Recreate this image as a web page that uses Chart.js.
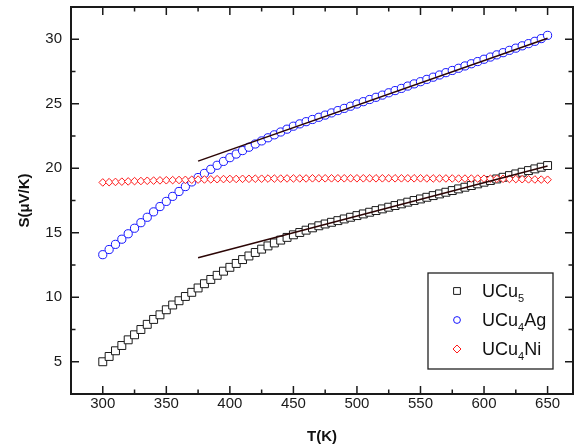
<!DOCTYPE html>
<html><head><meta charset="utf-8">
<script src="https://cdn.jsdelivr.net/npm/chart.js@4/dist/chart.umd.min.js"></script>
<style>html,body{margin:0;padding:0;background:#fff;}#wrap{width:586px;height:448px;}</style>
</head><body><div id="wrap"><canvas id="c" width="586" height="448"></canvas></div>
<script>
const temperatures = [
  300,305,310,315,320,325,330,335,340,345,
  350,355,360,365,370,375,380,385,390,395,
  400,405,410,415,420,425,430,435,440,445,
  450,455,460,465,470,475,480,485,490,495,
  500,505,510,515,520,525,530,535,540,545,
  550,555,560,565,570,575,580,585,590,595,
  600,605,610,615,620,625,630,635,640,645,
  650
];
const sUCu5 = [
  5.0,5.41,5.85,6.26,6.7,7.09,7.5,7.9,8.28,8.64,
  9.03,9.4,9.73,10.06,10.38,10.72,11.05,11.38,11.7,12.02,
  12.32,12.62,12.92,13.2,13.47,13.73,13.98,14.21,14.43,14.64,
  14.84,15.02,15.2,15.38,15.54,15.68,15.81,15.94,16.07,16.2,
  16.33,16.46,16.59,16.72,16.85,16.98,17.11,17.24,17.37,17.5,
  17.62,17.75,17.88,18.01,18.14,18.27,18.4,18.53,18.66,18.79,
  18.92,19.05,19.17,19.3,19.43,19.56,19.69,19.82,19.95,20.08,
  20.21
];
const sUCu4Ag = [
  13.3,13.7,14.1,14.5,14.92,15.35,15.78,16.2,16.62,17.03,
  17.43,17.82,18.2,18.58,18.94,19.28,19.6,19.92,20.23,20.53,
  20.82,21.1,21.37,21.63,21.88,22.12,22.36,22.59,22.81,23.03,
  23.26,23.44,23.61,23.78,23.95,24.12,24.29,24.47,24.64,24.81,
  24.98,25.16,25.33,25.5,25.67,25.85,26.02,26.19,26.37,26.54,
  26.71,26.89,27.06,27.23,27.41,27.58,27.75,27.93,28.1,28.27,
  28.45,28.62,28.79,28.96,29.14,29.31,29.49,29.66,29.84,30.05,
  30.3
];
const sUCu4Ni = [
  18.9,18.92,18.94,18.96,18.98,19.0,19.01,19.03,19.04,19.06,
  19.07,19.08,19.09,19.1,19.11,19.12,19.13,19.14,19.15,19.16,
  19.17,19.17,19.18,19.18,19.19,19.19,19.2,19.2,19.2,19.21,
  19.21,19.21,19.21,19.22,19.22,19.22,19.22,19.22,19.22,19.22,
  19.22,19.22,19.22,19.22,19.22,19.22,19.22,19.22,19.22,19.22,
  19.22,19.21,19.21,19.21,19.21,19.21,19.2,19.2,19.2,19.2,
  19.19,19.19,19.18,19.18,19.17,19.16,19.15,19.14,19.13,19.12,
  19.11
];
const fitUCu5T = [375, 650];
const fitUCu5S = [13.06, 20.17];
const fitUCu4AgT = [375, 650];
const fitUCu4AgS = [20.55, 30.08];
const seriesNames = ['UCu5', 'UCu4Ag', 'UCu4Ni'];
const xTicks = [300, 350, 400, 450, 500, 550, 600, 650];
const xMinorTicks = [325, 375, 425, 475, 525, 575, 625];
const yTicks = [5, 10, 15, 20, 25, 30];
const yMinorTicks = [7.5, 12.5, 17.5, 22.5, 27.5];

const pts = (xs, ys) => xs.map((t, i) => ({x: t, y: ys[i]}));
const FONT = '"Liberation Sans", Arial, sans-serif';

const frameAndLegend = {
  id: 'frameAndLegend',
  afterDraw(chart) {
    const {ctx, chartArea: a, scales: {x, y}} = chart;
    ctx.save();
    ctx.strokeStyle = '#1a1a1a';
    ctx.lineWidth = 2;
    ctx.strokeRect(a.left, a.top, a.right - a.left, a.bottom - a.top);
    ctx.lineWidth = 1.5;
    ctx.beginPath();
    const xt = (v, len) => { const p = x.getPixelForValue(v); ctx.moveTo(p, a.bottom); ctx.lineTo(p, a.bottom - len); ctx.moveTo(p, a.top); ctx.lineTo(p, a.top + len); };
    const yt = (v, len) => { const p = y.getPixelForValue(v); ctx.moveTo(a.left, p); ctx.lineTo(a.left + len, p); ctx.moveTo(a.right, p); ctx.lineTo(a.right - len, p); };
    xTicks.forEach(v => xt(v, 8)); xMinorTicks.forEach(v => xt(v, 4.5));
    yTicks.forEach(v => yt(v, 8)); yMinorTicks.forEach(v => yt(v, 4.5));
    ctx.stroke();

    // legend box
    const bx = a.right - 145, by = a.bottom - 121, bw = 125, bh = 96;
    ctx.fillStyle = '#fff';
    ctx.fillRect(bx, by, bw, bh);
    ctx.lineWidth = 1.3;
    ctx.strokeStyle = '#222';
    ctx.strokeRect(bx, by, bw, bh);
    const legendSets = chart.data.datasets.filter(d => d.inLegend);
    legendSets.forEach((ds, i) => {
      const base = by + 24 + i * 29;
      const mx = bx + 29, my = base - 6;
      ctx.strokeStyle = ds.borderColor;
      ctx.lineWidth = 1;
      ctx.beginPath();
      if (ds.pointStyle === 'rect') ctx.rect(mx - 3.4, my - 3.4, 6.8, 6.8);
      else if (ds.pointStyle === 'circle') ctx.arc(mx, my, 3.4, 0, Math.PI * 2);
      else { ctx.moveTo(mx - 4, my); ctx.lineTo(mx, my - 4); ctx.lineTo(mx + 4, my); ctx.lineTo(mx, my + 4); ctx.closePath(); }
      ctx.stroke();
      let tx = bx + 54;
      ctx.fillStyle = '#111';
      ctx.textBaseline = 'alphabetic';
      ctx.textAlign = 'left';
      ds.label.split(/(\d+)/).filter(s => s.length).forEach(part => {
        if (/^\d+$/.test(part)) {
          ctx.font = '11px ' + FONT;
          ctx.fillText(part, tx, base + 5);
          tx += ctx.measureText(part).width;
        } else {
          ctx.font = '18px ' + FONT;
          ctx.fillText(part, tx, base);
          tx += ctx.measureText(part).width;
        }
      });
    });
    ctx.restore();
  }
};

const markerBase = {type: 'scatter', showLine: false, borderWidth: 1, backgroundColor: '#fff', inLegend: true};
new Chart(document.getElementById('c'), {
  type: 'scatter',
  data: {
    datasets: [
      {label: 'fit UCu4Ag', type: 'line', data: pts(fitUCu4AgT, fitUCu4AgS), borderColor: '#2b0505', borderWidth: 1.5, pointRadius: 0, showLine: true, fill: false, order: 0},
      {label: 'fit UCu5', type: 'line', data: pts(fitUCu5T, fitUCu5S), borderColor: '#2b0505', borderWidth: 1.5, pointRadius: 0, showLine: true, fill: false, order: 0},
      {...markerBase, label: seriesNames[0], data: pts(temperatures, sUCu5), pointStyle: 'rect', pointRadius: 5.6, borderColor: '#1a1a1a', pointBackgroundColor: '#fff', order: 3},
      {...markerBase, label: seriesNames[1], data: pts(temperatures, sUCu4Ag), pointStyle: 'circle', pointRadius: 4.1, borderColor: '#1515ff', pointBackgroundColor: '#fff', order: 2},
      {...markerBase, label: seriesNames[2], data: pts(temperatures, sUCu4Ni), pointStyle: 'rectRot', pointRadius: 3.8, borderColor: '#ff1a1a', pointBackgroundColor: '#fff', order: 1}
    ]
  },
  options: {
    responsive: false,
    animation: false,
    devicePixelRatio: 1,
    layout: {padding: {left: 0, right: 13, top: 7, bottom: 0}},
    plugins: {legend: {display: false}, tooltip: {enabled: false}},
    scales: {
      x: {
        type: 'linear', position: 'bottom', min: 275, max: 670,
        afterBuildTicks: s => { s.ticks = xTicks.map(v => ({value: v})); },
        afterFit: s => { s.height = 54; s.paddingLeft = 0; s.paddingRight = 0; },
        grid: {display: false, drawTicks: false},
        border: {display: false},
        ticks: {padding: 1, color: '#1a1a1a', font: {family: FONT, size: 15}, maxRotation: 0},
        title: {display: true, text: 'T(K)', color: '#111', font: {family: FONT, size: 15, weight: 'bold'}, padding: {top: 0, bottom: 2}}
      },
      y: {
        type: 'linear', position: 'left', min: 2.5, max: 32.5,
        afterBuildTicks: s => { s.ticks = yTicks.map(v => ({value: v})); },
        afterFit: s => { s.width = 71; s.paddingTop = 0; s.paddingBottom = 0; },
        grid: {display: false, drawTicks: false},
        border: {display: false},
        ticks: {padding: 9, color: '#1a1a1a', font: {family: FONT, size: 15}},
        title: {display: true, text: 'S(μV/K)', color: '#111', font: {family: FONT, size: 15, weight: 'bold'}, padding: {top: 16, bottom: 0}}
      }
    }
  },
  plugins: [frameAndLegend]
});
</script>
</body></html>
